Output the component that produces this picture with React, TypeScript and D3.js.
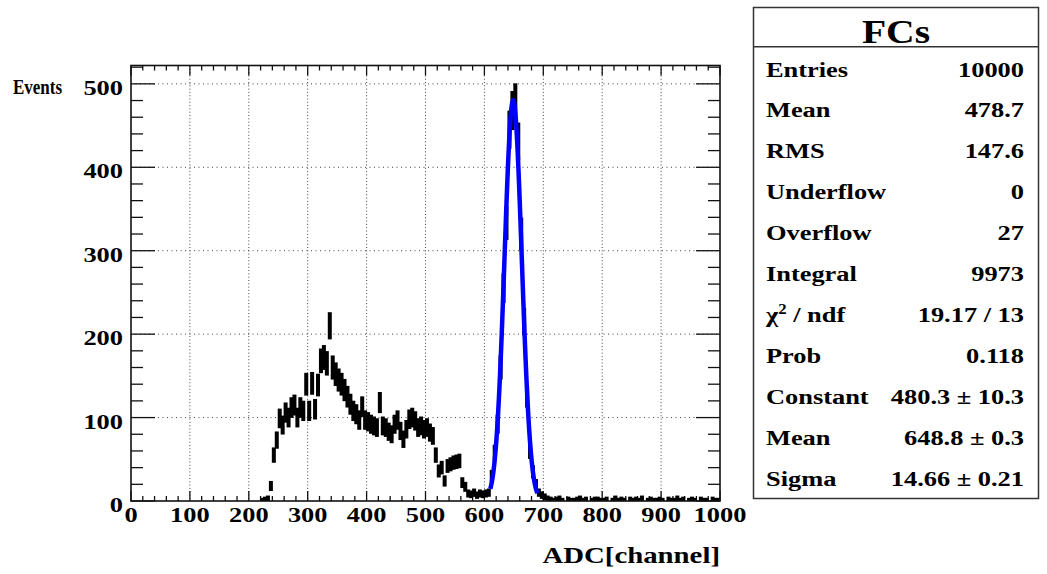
import React, { useRef, useEffect } from 'react';
import * as d3 from 'd3';

// FCs histogram: 200 bins from 0 to 1000 ADC channels
const xDomain = [0, 1000];
const counts = [
    0, 0, 0, 0, 0, 0, 0, 0, 0, 0, 0, 0, 0, 0, 0, 0, 0, 0, 0, 0,
    0, 0, 0, 0, 0, 0, 0, 0, 0, 0, 0, 0, 0, 0, 0, 0, 0, 0, 0, 0,
    0, 0, 0, 0, 1, 2, 3, 18, 55, 73, 99, 91, 106, 100, 112, 115, 100, 112, 108, 140,
    108, 141, 110, 139, 168, 172, 165, 210, 160, 152, 145, 140, 133, 125, 116, 108, 104, 97, 113, 97,
    95, 92, 90, 88, 118, 90, 88, 83, 80, 92, 97, 84, 74, 86, 98, 100, 96, 88, 90, 86,
    88, 82, 78, 55, 36, 40, 24, 42, 44, 46, 47, 48, 22, 17, 9, 8, 10, 7, 9, 8,
    9, 10, 30, 58, 92, 160, 255, 333, 445, 468, 477, 431, 320, 215, 125, 60, 35, 20, 10, 7,
    5, 3, 2, 1, 2, 3, 1, 0, 2, 1, 1, 2, 3, 1, 2, 0, 1, 2, 2, 1,
    1, 2, 0, 1, 3, 1, 2, 1, 0, 2, 1, 2, 1, 3, 0, 1, 2, 1, 1, 2,
    1, 0, 2, 1, 1, 3, 1, 2, 0, 1, 2, 1, 0, 2, 1, 1, 0, 2, 1, 1,
];
const yMax = 522;
const xTickLabels = [0, 100, 200, 300, 400, 500, 600, 700, 800, 900, 1000];
const yTickLabels = [0, 100, 200, 300, 400, 500];

// gaus fit
const fitConstant = 480.3;
const fitMean = 648.8;
const fitSigma = 14.66;
const fitRange = [610, 690];

const statTitle = 'FCs';
const statLabels = ['Entries', 'Mean', 'RMS', 'Underflow', 'Overflow', 'Integral', 'chi2', 'Prob', 'Constant', 'Mean', 'Sigma'];
const statValues = ['10000', '478.7', '147.6', '0', '27', '9973', '19.17 / 13', '0.118', '480.3 \u00b1 10.3', '648.8 \u00b1 0.3', '14.66 \u00b1 0.21'];

const FONT = '"Liberation Serif", "Times New Roman", serif';
const SX = 1.2; // picture is stretched sideways

const App = () => {
    const svgRef = useRef(null);

    useEffect(() => {
        const svg = d3.select(svgRef.current);
        svg.selectAll('*').remove();

        const margin = { top: 65.5, left: 131 };
        const width = 589, height = 435.5;

        const x = d3.scaleLinear().domain(xDomain).range([0, width]);
        const y = d3.scaleLinear().domain([0, yMax]).range([height, 0]);
        const binW = (xDomain[1] - xDomain[0]) / counts.length;

        const txt = (g, px, py, s, size, anchor, sx = SX) =>
            g.append('text')
                .attr('transform', 'translate(' + px + ',' + py + ') scale(' + sx + ',1)')
                .attr('text-anchor', anchor)
                .style('font-family', FONT)
                .style('font-weight', 'bold')
                .style('font-size', size + 'px')
                .text(s);

        svg.append('defs').append('clipPath').attr('id', 'frameClip')
            .append('rect').attr('width', width).attr('height', height);

        const focus = svg.append('g').attr('transform', 'translate(' + margin.left + ',' + margin.top + ')');

        // grid
        focus.selectAll('.vgrid')
            .data(xTickLabels.slice(1, -1))
            .enter().append('line')
            .attr('x1', d => x(d)).attr('x2', d => x(d))
            .attr('y1', 0).attr('y2', height)
            .attr('stroke', '#444').attr('stroke-width', 1)
            .attr('stroke-dasharray', '1,2.3');
        focus.selectAll('.hgrid')
            .data(yTickLabels.slice(1))
            .enter().append('line')
            .attr('x1', 0).attr('x2', width)
            .attr('y1', d => y(d)).attr('y2', d => y(d))
            .attr('stroke', '#444').attr('stroke-width', 1)
            .attr('stroke-dasharray', '1,3.5');

        // ticks
        const xt = d3.range(xDomain[0], xDomain[1] + 1, 20);
        const yt = d3.range(0, yMax, 20);
        const tickG = focus.append('g').attr('stroke', '#111').attr('stroke-width', 1.3);
        xt.forEach(v => {
            const len = v % 100 === 0 ? 10 : 5;
            tickG.append('line').attr('x1', x(v)).attr('x2', x(v)).attr('y1', height).attr('y2', height - len);
            tickG.append('line').attr('x1', x(v)).attr('x2', x(v)).attr('y1', 0).attr('y2', len);
        });
        yt.forEach(v => {
            const len = v % 100 === 0 ? 24 : 12;
            tickG.append('line').attr('x1', 0).attr('x2', len).attr('y1', y(v)).attr('y2', y(v));
            tickG.append('line').attr('x1', width).attr('x2', width - len).attr('y1', y(v)).attr('y2', y(v));
        });

        // histogram error bars
        const bars = focus.append('g').attr('clip-path', 'url(#frameClip)');
        bars.selectAll('.bar')
            .data(counts.map((c, i) => ({ c, lo: xDomain[0] + i * binW })).filter(d => d.c > 0))
            .enter().append('rect')
            .attr('x', d => x(d.lo + binW / 2) - 2)
            .attr('width', 4)
            .attr('y', d => y(d.c + Math.sqrt(d.c)) - 1.5)
            .attr('height', d => y(d.c - Math.sqrt(d.c)) - y(d.c + Math.sqrt(d.c)) + 3)
            .attr('fill', '#000');

        // fit curve
        const fitX = d3.range(fitRange[0], fitRange[1] + 0.01, 0.5);
        const gaus = v => fitConstant * Math.exp(-0.5 * Math.pow((v - fitMean) / fitSigma, 2));
        focus.append('path')
            .datum(fitX)
            .attr('d', d3.line().x(d => x(d)).y(d => y(gaus(d))))
            .attr('fill', 'none')
            .attr('stroke', '#0000ff')
            .attr('stroke-width', 4.5)
            .attr('stroke-linejoin', 'round');

        // frame
        focus.append('rect')
            .attr('width', width).attr('height', height)
            .attr('fill', 'none').attr('stroke', '#111').attr('stroke-width', 1.6);

        // tick labels
        xTickLabels.forEach(v => txt(focus, x(v), height + 21, String(v), 22, 'middle'));
        yTickLabels.forEach(v => txt(focus, -8, y(v) + 11, String(v), 22, 'end'));

        // axis titles
        txt(svg, 13, 94, 'Events', 20, 'start', 0.85);
        txt(svg, 720, 563, 'ADC[channel]', 24, 'end');

        // stats box
        const box = svg.append('g');
        box.append('rect')
            .attr('x', 753.5).attr('y', 7.5).attr('width', 285).attr('height', 491)
            .attr('fill', '#fff').attr('stroke', '#333').attr('stroke-width', 1.5);
        box.append('line')
            .attr('x1', 753.5).attr('x2', 1038.5).attr('y1', 46.7).attr('y2', 46.7)
            .attr('stroke', '#333').attr('stroke-width', 1.5);
        txt(box, 896, 43, statTitle, 33, 'middle');
        statLabels.forEach((s, i) => {
            const by = 76.5 + i * 40.9;
            if (s === 'chi2') {
                const t = txt(box, 766, by, '\u03c7', 22, 'start');
                t.append('tspan').attr('dy', -8).style('font-size', '14px').text('2');
                t.append('tspan').attr('dy', 8).text(' / ndf');
            } else {
                txt(box, 766, by, s, 22, 'start');
            }
            txt(box, 1024, by, statValues[i], 22, 'end');
        });
    }, []);

    return (
        <svg ref={svgRef} width={1047} height={574}
            style={{ position: 'absolute', left: 0, top: 0, background: '#fff' }} />
    );
};

export default App;
